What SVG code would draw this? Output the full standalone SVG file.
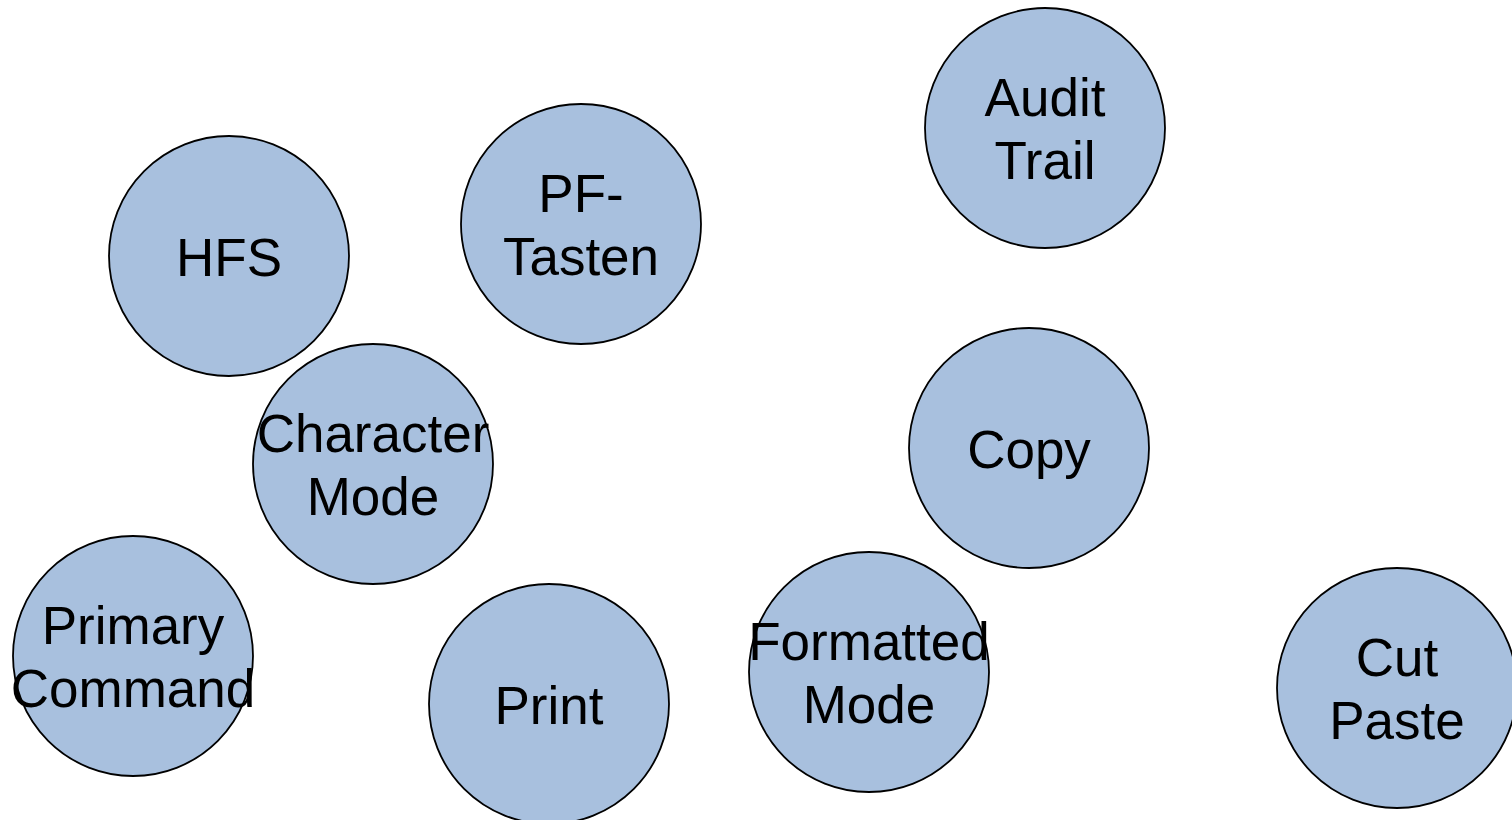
<svg xmlns="http://www.w3.org/2000/svg" width="1512" height="820" viewBox="0 0 1512 820">
<style>
.n circle{fill:#A8C0DE;stroke:#000;stroke-width:1.8}
.n text{font-family:"Liberation Sans",Arial,sans-serif;font-size:53px;fill:#000;text-anchor:middle}
</style>
<rect width="1512" height="820" fill="#fff"/>
<g id="connectors"></g>
<g id="hfs" class="n"><circle cx="229" cy="256" r="120"/><text x="229" y="276">HFS</text></g>
<g id="pf-tasten" class="n"><circle cx="581" cy="224" r="120"/><text x="581" y="212">PF-</text><text x="581" y="275">Tasten</text></g>
<g id="audit-trail" class="n"><circle cx="1045" cy="128" r="120"/><text x="1045" y="116">Audit</text><text x="1045" y="179">Trail</text></g>
<g id="character-mode" class="n"><circle cx="373" cy="464" r="120"/><text x="373" y="452">Character</text><text x="373" y="515">Mode</text></g>
<g id="copy" class="n"><circle cx="1029" cy="448" r="120"/><text x="1029" y="468">Copy</text></g>
<g id="primary-command" class="n"><circle cx="133" cy="656" r="120"/><text x="133" y="644">Primary</text><text x="133" y="707">Command</text></g>
<g id="print" class="n"><circle cx="549" cy="704" r="120"/><text x="549" y="724">Print</text></g>
<g id="formatted-mode" class="n"><circle cx="869" cy="672" r="120"/><text x="869" y="660">Formatted</text><text x="869" y="723">Mode</text></g>
<g id="cut-paste" class="n"><circle cx="1397" cy="688" r="120"/><text x="1397" y="676">Cut</text><text x="1397" y="739">Paste</text></g>
</svg>
